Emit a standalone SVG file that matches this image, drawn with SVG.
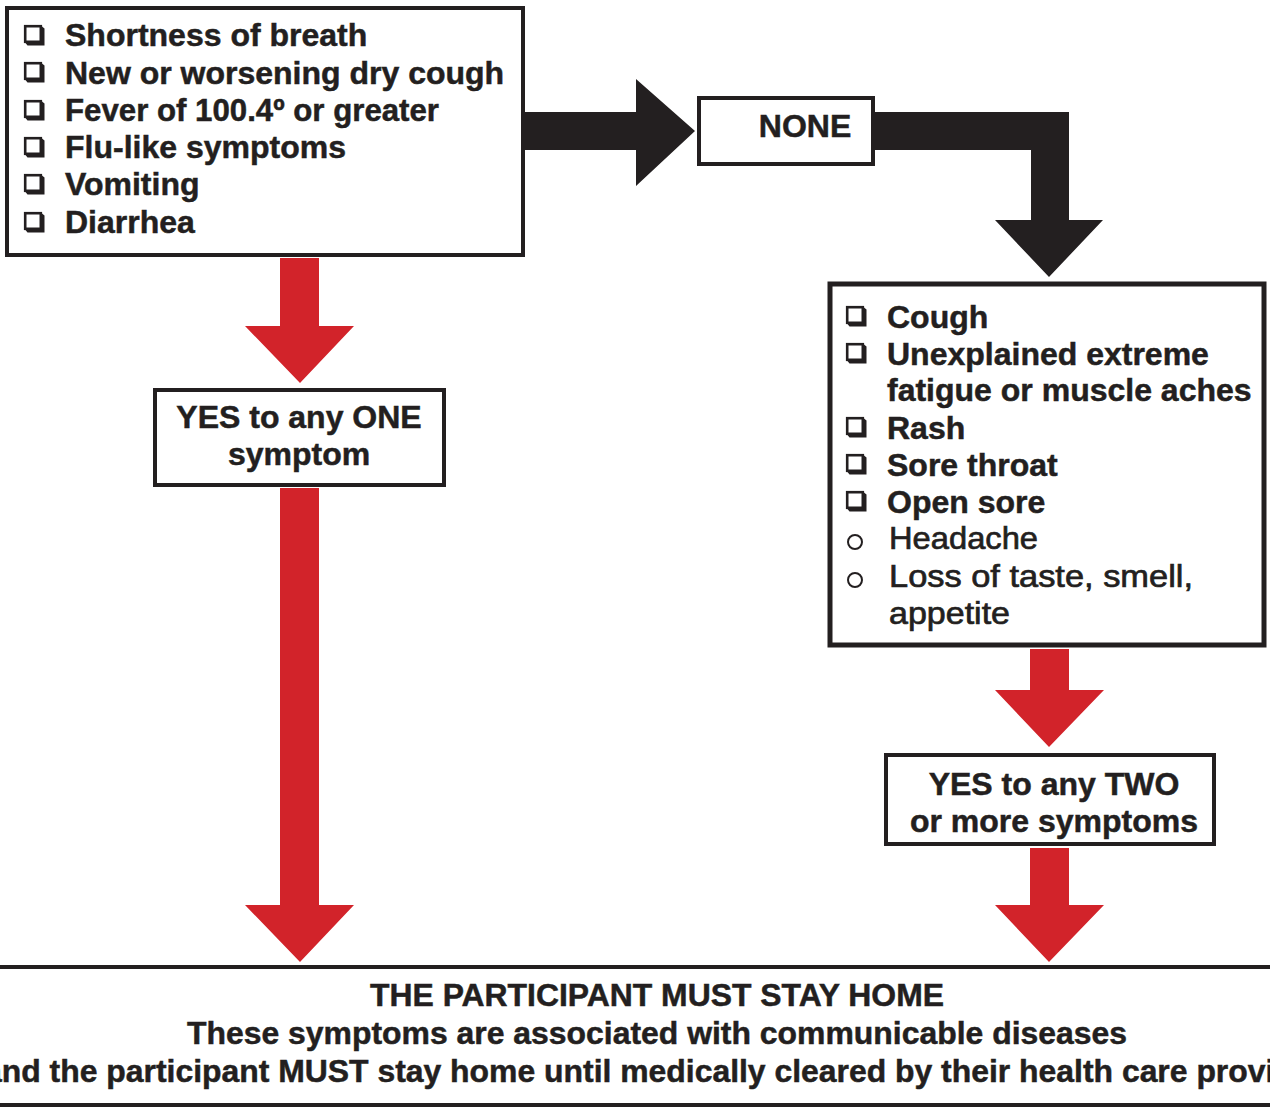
<svg xmlns="http://www.w3.org/2000/svg" xmlns:xlink="http://www.w3.org/1999/xlink" width="1270" height="1108" viewBox="0 0 1270 1108">
<style>
.box{fill:#fff;stroke:#231f20;stroke-width:4}
.t{font-family:"Liberation Sans",Arial,Helvetica,sans-serif;font-size:32px;font-weight:bold;fill:#231f20;stroke:#231f20;stroke-width:0.5}
.r{font-family:"Liberation Sans",Arial,Helvetica,sans-serif;font-size:32px;font-weight:normal;fill:#231f20;stroke:#231f20;stroke-width:0.7}
.c{text-anchor:middle}
.red{fill:#d2232a}
.blk{fill:#231f20}
</style>
<defs>
<g id="cb">
<rect x="1.2" y="1.2" width="15.6" height="15.6" fill="none" stroke="#231f20" stroke-width="2.6"/>
<path d="M1.5,18 L3.5,20.5 L20.5,20.5 L20.5,3.5 L18,1.5 L18,18 Z" fill="#231f20"/>
</g>
</defs>
<rect width="1270" height="1108" fill="#fff"/>
<g id="connectors">
<polygon class="blk" points="524,112 636,112 636,79 695,131 636,186 636,150 524,150"/>
<polygon class="blk" points="874,112 1069,112 1069,220 1103,220 1049,277 995,220 1031,220 1031,150 874,150"/>
<polygon class="red" points="280,258 319,258 319,326 354,326 300,383 245,326 280,326"/>
<polygon class="red" points="280,488 319,488 319,905 354,905 300,962 245,905 280,905"/>
<polygon class="red" points="1030,649 1069,649 1069,690 1104,690 1049,747 995,690 1030,690"/>
<polygon class="red" points="1030,848 1069,848 1069,905 1104,905 1049,962 995,905 1030,905"/>
</g>
<g id="symptoms-main">
<rect class="box" x="7" y="8" width="516" height="247"/>
<use xlink:href="#cb" x="24" y="25"/>
<use xlink:href="#cb" x="24" y="62"/>
<use xlink:href="#cb" x="24" y="100"/>
<use xlink:href="#cb" x="24" y="137"/>
<use xlink:href="#cb" x="24" y="174"/>
<use xlink:href="#cb" x="24" y="212"/>
<text class="t" x="65" y="46">Shortness of breath</text>
<text class="t" x="65" y="84">New or worsening dry cough</text>
<text class="t" x="65" y="121" textLength="374" lengthAdjust="spacingAndGlyphs">Fever of 100.4º or greater</text>
<text class="t" x="65" y="158">Flu-like symptoms</text>
<text class="t" x="65" y="195">Vomiting</text>
<text class="t" x="65" y="233">Diarrhea</text>
</g>
<g id="none">
<rect class="box" x="699" y="98" width="174" height="66"/>
<text class="t c" x="805" y="137">NONE</text>
</g>
<g id="symptoms-other">
<rect class="box" x="830" y="284" width="434" height="361" style="stroke-width:5"/>
<use xlink:href="#cb" x="846" y="306"/>
<use xlink:href="#cb" x="846" y="343"/>
<use xlink:href="#cb" x="846" y="417"/>
<use xlink:href="#cb" x="846" y="454"/>
<use xlink:href="#cb" x="846" y="491"/>
<circle cx="855" cy="542" r="7" fill="none" stroke="#231f20" stroke-width="2"/>
<circle cx="855" cy="580" r="7" fill="none" stroke="#231f20" stroke-width="2"/>
<text class="t" x="887" y="328">Cough</text>
<text class="t" x="887" y="365">Unexplained extreme</text>
<text class="t" x="887" y="401">fatigue or muscle aches</text>
<text class="t" x="887" y="439">Rash</text>
<text class="t" x="887" y="476">Sore throat</text>
<text class="t" x="887" y="513">Open sore</text>
<text class="r" x="889" y="549" textLength="149" lengthAdjust="spacingAndGlyphs">Headache</text>
<text class="r" x="889" y="587" textLength="304" lengthAdjust="spacingAndGlyphs">Loss of taste, smell,</text>
<text class="r" x="889" y="624" textLength="121" lengthAdjust="spacingAndGlyphs">appetite</text>
</g>
<g id="yes-one">
<rect class="box" x="155" y="390" width="289" height="95"/>
<text class="t c" x="299" y="428">YES to any ONE</text>
<text class="t c" x="299" y="465">symptom</text>
</g>
<g id="yes-two">
<rect class="box" x="886" y="755" width="328" height="89"/>
<text class="t c" x="1054" y="795">YES to any TWO</text>
<text class="t c" x="1054" y="832">or more symptoms</text>
</g>
<g id="stay-home">
<rect class="blk" x="0" y="965" width="1270" height="4"/>
<rect class="blk" x="0" y="1103" width="1270" height="4"/>
<text class="t c" x="657" y="1006" textLength="574" lengthAdjust="spacingAndGlyphs">THE PARTICIPANT MUST STAY HOME</text>
<text class="t c" x="657" y="1044" textLength="940" lengthAdjust="spacingAndGlyphs">These symptoms are associated with communicable diseases</text>
<text class="t" x="-16" y="1082" textLength="1340" lengthAdjust="spacingAndGlyphs">and the participant MUST stay home until medically cleared by their health care provider</text>
</g>
</svg>
